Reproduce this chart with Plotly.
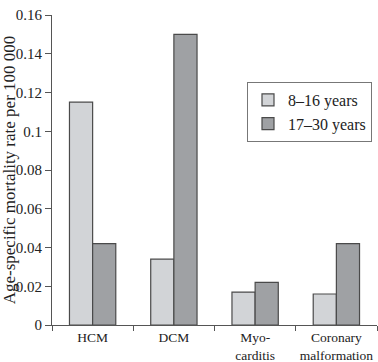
import plotly.graph_objects as go

categories = ["HCM", "DCM", "Myo-<br>carditis", "Coronary<br>malformation"]
young = [0.115, 0.034, 0.017, 0.016]
older = [0.042, 0.150, 0.022, 0.042]
series_names = ["8\u201316 years", "17\u201330 years"]
y_ticks = [0, 0.02, 0.04, 0.06, 0.08, 0.1, 0.12, 0.14, 0.16]
y_tick_text = ["0", "0.02", "0.04", "0.06", "0.08", "0.1", "0.12", "0.14", "0.16"]

fig = go.Figure()
fig.add_trace(go.Bar(x=categories, y=young, name=series_names[0],
                     marker=dict(color="#d2d4d7", line=dict(color="#4a4a4a", width=1.2))))
fig.add_trace(go.Bar(x=categories, y=older, name=series_names[1],
                     marker=dict(color="#9fa1a4", line=dict(color="#4a4a4a", width=1.2))))

font = "Liberation Serif, Times New Roman, serif"
fig.update_layout(
    width=378, height=362,
    margin=dict(l=52, r=1, t=15, b=37),
    paper_bgcolor="white", plot_bgcolor="white",
    barmode="group", bargap=0.43, bargroupgap=0,
    font=dict(family=font, size=15, color="#222"),
    showlegend=True,
    legend=dict(x=0.60, y=0.784, xanchor="left", yanchor="top",
                bgcolor="white", bordercolor="#777", borderwidth=1,
                font=dict(family=font, size=16, color="#222")),
    xaxis=dict(showline=True, linecolor="#555", linewidth=1.2, automargin=False,
               ticks="outside", tickson="boundaries", ticklen=5, tickcolor="#555",
               tickangle=0, tickfont=dict(family=font, size=13.5, color="#222"),
               showgrid=False),
    yaxis=dict(range=[0, 0.16], tickvals=y_ticks, ticktext=y_tick_text, automargin=False,
               showline=True, linecolor="#555", linewidth=1.2,
               ticks="outside", ticklen=6, tickcolor="#555", showgrid=False,
               zeroline=False, tickfont=dict(family=font, size=15, color="#222"),
               title=dict(text="Age-specific mortality rate per 100 000",
                          font=dict(family=font, size=17, color="#222"))),
)

fig.write_html("out.html", config={"displayModeBar": False},
               post_script="document.body.style.margin='0';document.body.style.overflow='hidden';")
